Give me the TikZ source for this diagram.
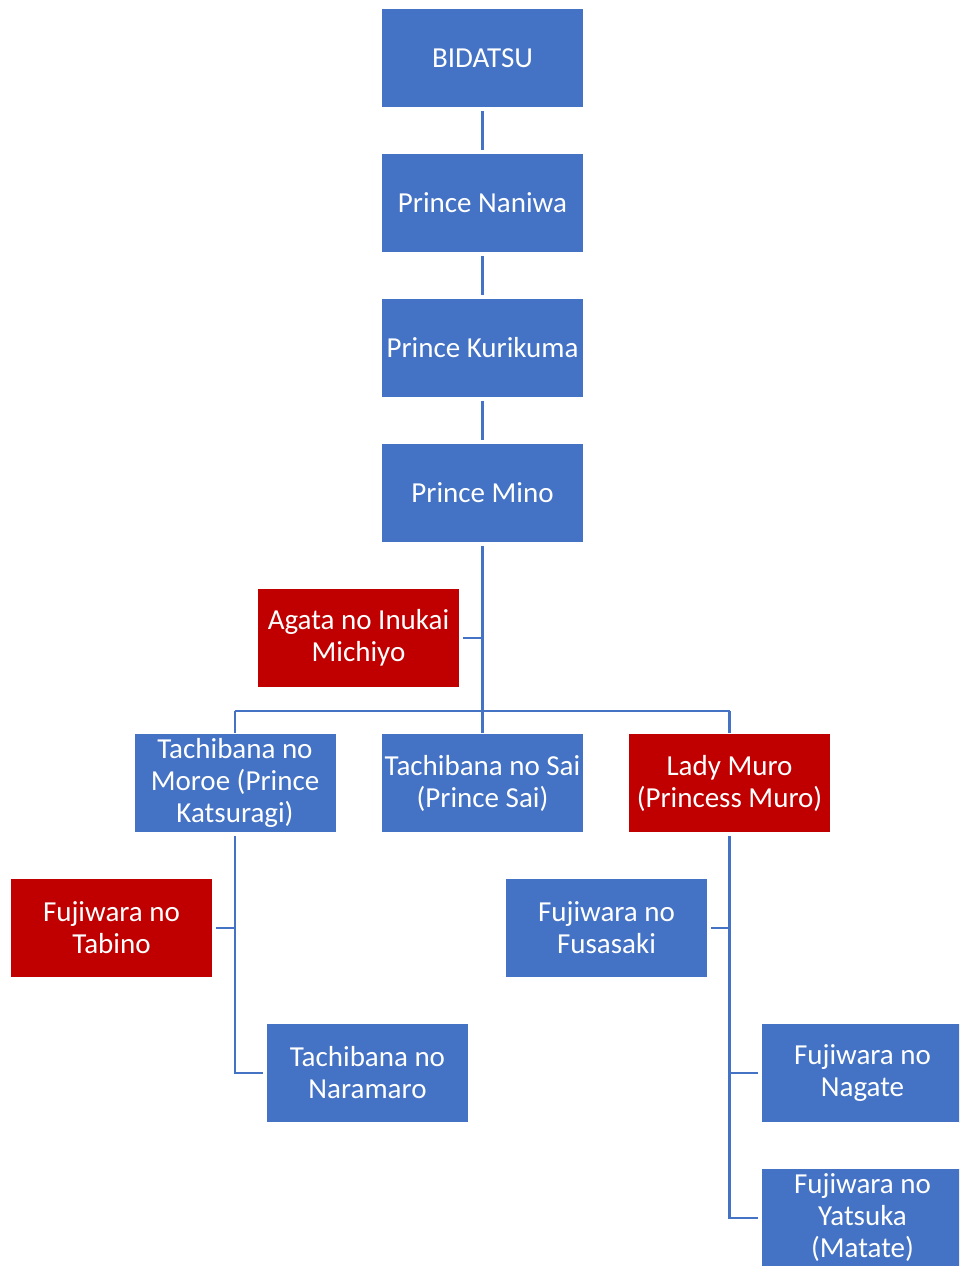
\documentclass[tikz,border=0pt]{standalone}
\usepackage{fontspec}
\setmainfont{Carlito}
\definecolor{boxblue}{HTML}{4472C4}
\definecolor{boxred}{HTML}{C00000}
\begin{document}
\begin{tikzpicture}[x=1pt,y=-1pt,
  person/.style={fill=boxblue, draw=white, line width=0.8pt, minimum width=202pt, minimum height=99pt,
    inner sep=0pt, align=center, text=white, font=\fontsize{29}{32}\selectfont},
  redperson/.style={person, fill=boxred},
  link/.style={draw=boxblue, line width=2.7pt, line cap=butt},
  gap/.style={shorten <=3pt, shorten >=3pt}]
\useasboundingbox (0,0) rectangle (959,1266);
\clip (0,0) rectangle (959,1266);
\node[person] (bid) at (482.5,58) {BIDATSU};
\node[person] (nan) at (482.5,203) {Prince Naniwa};
\node[person] (kur) at (482.5,348) {Prince Kurikuma};
\node[person] (min) at (482.5,493) {Prince Mino};
\node[redperson] (aga) at (358.5,638) {Agata no Inukai\\Michiyo};
\node[person] (mor) at (235,783) {Tachibana no\\Moroe (Prince\\Katsuragi)};
\node[person] (sai) at (482.5,783) {\makebox[190pt]{Tachibana no Sai}\\(Prince Sai)};
\node[redperson] (mur) at (729.5,783) {Lady Muro\\(Princess Muro)};
\node[redperson] (tab) at (111.5,928) {Fujiwara no\\Tabino};
\node[person] (fus) at (606.5,928) {Fujiwara no\\Fusasaki};
\node[person] (nar) at (367.5,1073) {Tachibana no\\Naramaro};
\node[person] (nag) at (862.5,1073) {Fujiwara no\\Nagate};
\node[person] (yat) at (862.5,1218) {Fujiwara no\\Yatsuka\\(Matate)};

\coordinate (jA) at (482.5,638);
\coordinate (hL) at (235,711);
\coordinate (hR) at (729.5,711);
\coordinate (jT) at (235,928);
\coordinate (jN) at (235,1073);
\coordinate (jF) at (729.5,928);
\coordinate (jG) at (729.5,1073);
\coordinate (jY) at (729.5,1218);

\draw[link,gap] (bid.south) -- (nan.north);
\draw[link,gap] (nan.south) -- (kur.north);
\draw[link,gap] (kur.south) -- (min.north);
\draw[link,shorten <=3pt] (min.south) -- (sai.north);
\draw[link,shorten <=3pt] (aga.east) -- (jA);
\draw[link] (hL) -- (hR);
\draw[link] (hL) -- (mor.north);
\draw[link] (hR) -- (mur.north);
\draw[link,shorten <=3pt,shorten >=3pt] (mor.south) -- (jN) -- (nar.west);
\draw[link,shorten <=3pt] (tab.east) -- (jT);
\draw[link,shorten <=3pt,shorten >=3pt] (mur.south) -- (jY) -- (yat.west);
\draw[link,shorten >=3pt] (jG) -- (nag.west);
\draw[link,shorten <=3pt] (fus.east) -- (jF);
\end{tikzpicture}
\end{document}
